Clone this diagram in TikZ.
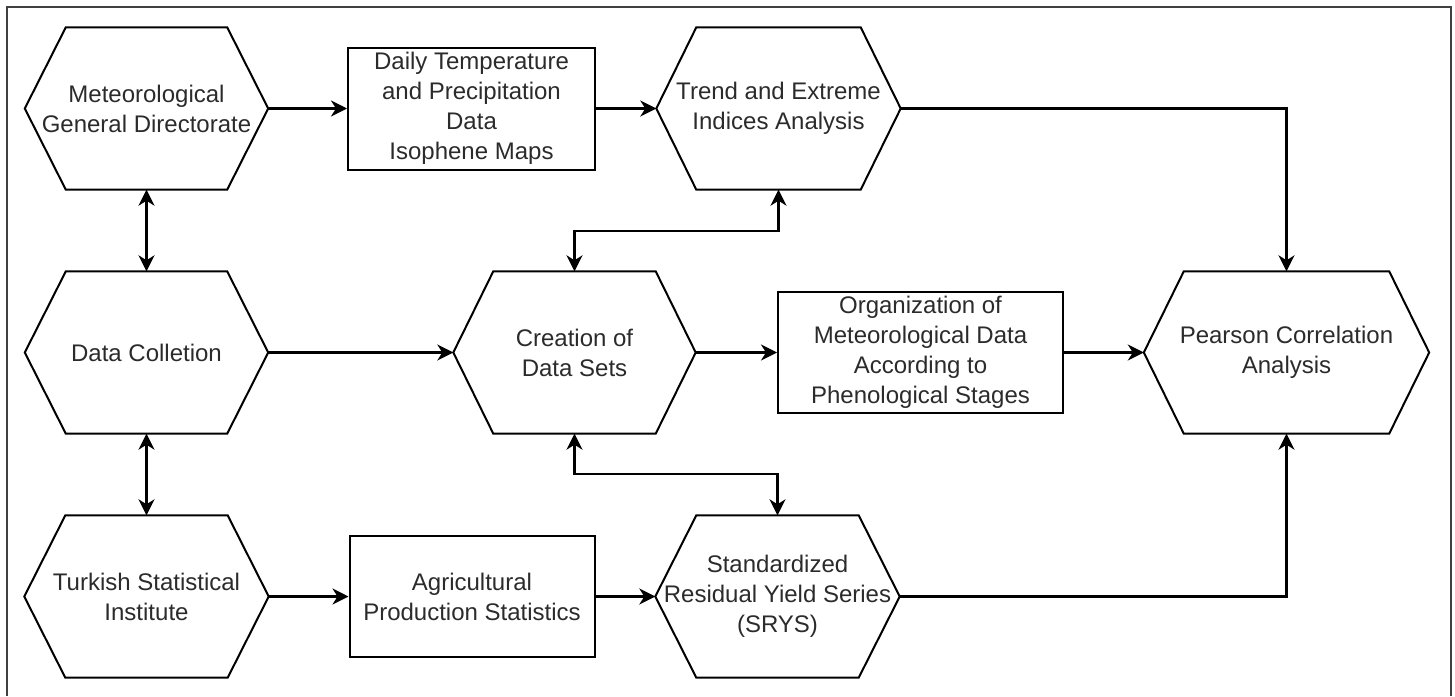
\documentclass[tikz,border=0pt]{standalone}
\usepackage{fontspec}
\setmainfont{Liberation Sans}
\usetikzlibrary{arrows.meta,calc}
\definecolor{txt}{HTML}{2B2B2B}
\definecolor{ln}{HTML}{000000}
\newcommand{\hexa}[2]{\draw[shapeline] (#1.west) -- ($(#1.north west)+(#2,0)$) -- ($(#1.north east)+(-#2,0)$) -- (#1.east) -- ($(#1.south east)+(-#2,0)$) -- ($(#1.south west)+(#2,0)$) -- cycle;}
\tikzset{
  lbl/.style={font=\fontsize{24}{30}\selectfont, text=txt, align=center, inner sep=0pt},
  shapeline/.style={draw=ln, line width=2pt, line join=miter},
  hexnode/.style={lbl, draw=none},
  rectnode/.style={lbl, shapeline},
  arr/.style={draw=ln, line width=2.2pt, -{Stealth[length=16pt,width=16pt,inset=5pt]}},
  darr/.style={draw=ln, line width=2.2pt, {Stealth[length=16pt,width=16pt,inset=5pt]}-{Stealth[length=16pt,width=16pt,inset=5pt]}},
}
\begin{document}
\begin{tikzpicture}[x=1pt,y=-1pt]
\useasboundingbox (0,0) rectangle (1455,696);
\draw[line width=2pt, draw=black!75] (7,696) -- (7,7) -- (1451,7) -- (1451,696);

% hexagons
\node[hexnode, minimum width=243pt, minimum height=162pt] (mgd) at (146.5,108.5) {Meteorological\\General Directorate};
\node[hexnode, minimum width=243pt, minimum height=162pt] (dc) at (146.5,352.5) {Data Colletion};
\node[hexnode, minimum width=244pt, minimum height=162pt] (tsi) at (146.5,596.5) {Turkish Statistical\\Institute};
\node[hexnode, minimum width=244pt, minimum height=162pt] (trend) at (778.5,108.5) {Trend and Extreme\\Indices Analysis};
\node[hexnode, minimum width=242pt, minimum height=162pt] (cds) at (574.5,352.5) {Creation of\\Data Sets};
\node[hexnode, minimum width=244pt, minimum height=162pt] (srys) at (777.5,596.5) {Standardized\\Residual Yield Series\\(SRYS)};
\node[hexnode, minimum width=285pt, minimum height=162pt] (pca) at (1286.5,352.5) {Pearson Correlation\\Analysis};
\hexa{mgd}{41}
\hexa{dc}{41}
\hexa{tsi}{41}
\hexa{trend}{40}
\hexa{cds}{40}
\hexa{srys}{41}
\hexa{pca}{40}

% rectangles
\node[rectnode, minimum width=247pt, minimum height=122pt] (dtp) at (471.5,108.5) {Daily Temperature\\and Precipitation\\Data\\Isophene Maps};
\node[rectnode, minimum width=285pt, minimum height=121pt] (org) at (920.5,352.5) {Organization of\\Meteorological Data\\According to\\Phenological Stages};
\node[rectnode, minimum width=245pt, minimum height=121pt] (aps) at (472,596.5) {Agricultural\\Production Statistics};

% connectors
\draw[arr] (mgd.east) -- (dtp.west);
\draw[arr] (dtp.east) -- (trend.west);
\draw[arr] (trend.east) -| (pca.north);
\draw[darr] (mgd.south) -- (dc.north);
\draw[darr] (dc.south) -- (tsi.north);
\draw[arr] (dc.east) -- (cds.west);
\draw[arr] (cds.east) -- (org.west);
\draw[arr] (org.east) -- (pca.west);
\draw[darr] (trend.south) -- ++(0,41) -| (cds.north);
\draw[darr] (cds.south) -- ++(0,40) -| (srys.north);
\draw[arr] (tsi.east) -- (aps.west);
\draw[arr] (aps.east) -- (srys.west);
\draw[arr] (srys.east) -| (pca.south);
\end{tikzpicture}
\end{document}
